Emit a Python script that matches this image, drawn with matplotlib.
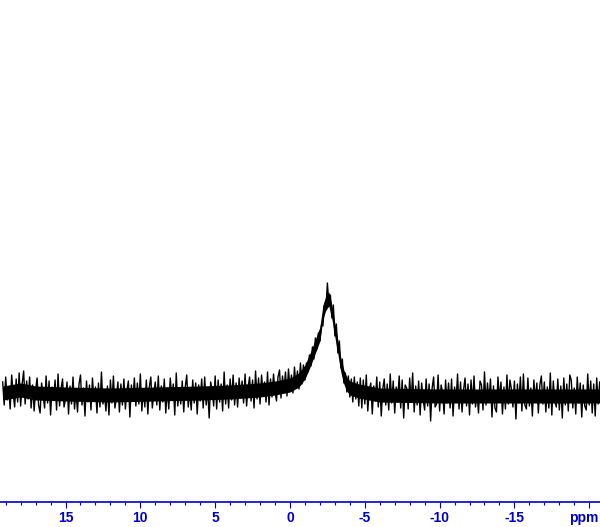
import numpy as np
import matplotlib.pyplot as plt

# chemical shift grid of the read-off trace (ppm), 0.1 ppm steps
ppm_start, ppm_step = 19.2, 0.1

# spike extremes (a.u., baseline = 0), one row per ppm
trace = [
    14, -9, 19, -4, 8, -13, 21, 2, -11, 17,
    -6, 23, -10, 12, 25, -8, 15, -3, 19, -12,
    11, -15, 6, 18, -9, -17, 13, 1, -12, 20,
    -7, 15, -19, 9, -4, 16, -14, 22, -10, 7,
    17, -11, -3, 14, -18, 10, -8, 19, -13, 5,
    -16, 12, 21, -9, 8, -20, 15, -6, 11, -14,
    18, -5, 9, -17, 13, -11, 24, -8, 3, -15,
    10, -19, 16, -7, 20, -12, -2, 14, -16, 12,
    -9, 17, -13, 6, 15, -21, 11, -4, 18, -10,
    13, -8, 22, -15, 7, -11, 16, -18, 9, 19,
    -12, 4, 14, -9, 20, -14, 10, -6, 17, -17,
    8, -13, 18, -3, 12, -19, 23, -10, 6, -8,
    15, -16, 9, 21, -11, 5, -14, 16, -7, 13,
    -18, 11, -5, 17, -12, 19, -9, 8, -22, 14,
    6, -10, 20, -13, 16, -6, 12, -15, 24, -8,
    11, -12, 17, -4, 21, -9, 13, -11, 18, -2,
    15, -7, 22, -10, 9, 19, -5, 16, -12, 25,
    -3, 18, -8, 21, 2, 14, -6, 24, -9, 17,
    -1, 22, 4, -5, 19, 26, -2, 20, 6, 24,
    0, 27, 8, 21, 3, 29, 10, 25, 7, 33,
    12, 31, 16, 33, 24, 41, 30, 49, 37, 58,
    47, 63, 55, 71, 70, 90, 86, 113, 92, 101,
    78, 91, 60, 72, 43, 55, 28, 37, 13, 23,
    4, 20, -1, 17, -6, 19, -3, 14, -10, 18,
    -12, 16, -8, 21, -15, 6, 13, -18, 10, -5,
    19, -11, 14, -20, 7, 17, -9, 12, -14, 22,
    -7, 15, -17, 9, -3, 20, -12, 16, -22, 11,
    8, -13, 18, -6, 23, -16, 10, -9, 15, -19,
    13, -4, -14, 17, -10, 12, -25, 8, 19, -11,
    -8, 21, -15, 11, 4, -18, 16, -7, 13, -12,
    17, -20, 9, -5, 22, -13, 14, -16, 6, 18,
    -10, 12, -19, 16, -8, 20, -11, 3, -17, 15,
    11, -14, 24, -9, 13, -6, 17, -21, 10, -12,
    -16, 19, -4, 14, -18, 9, -13, 21, -8, 16,
    7, -11, 15, -23, 12, -7, 19, -15, 22, -9,
    -13, 18, -10, 8, -20, 16, -5, 13, -17, 11,
    20, -8, 14, -16, 9, -12, 23, -19, 15, -6,
    -11, 17, -14, 10, -22, 18, -9, 12, -15, 21,
    16, -12, 8, -18, 19, -7, 13, -21, 11, -10,
    -14, 22, -9, 15, -17, 12, -20, 18, -8, 14,
]

# middle of the dense noise band
center_ppm = [19.2, 18.0, 17.0, 15, 12, 9, 6, 4, 2, 1, 0, -0.6, -1.0, -1.4, -1.8,
              -2.0, -2.2, -2.4, -2.6, -2.8, -3.0, -3.2, -3.4, -3.6, -3.8, -4.0,
              -4.6, -6, -10, -14, -18, -20.7]
center_val = [3, 6, 3, 2, 1, 2, 3, 4, 6, 8, 11, 16, 24, 38, 54,
              62, 84, 93, 97, 84, 66, 49, 31, 19, 12, 8,
              5, 1, 0, 0, 0, 0]

major_ticks = [15, 10, 5, 0, -5, -10, -15, -20]
tick_labels = ['15', '10', '5', '0', '-5', '-10', '-15', '']

ppm = ppm_start - ppm_step * np.arange(len(trace))
blue = '#0000cc'

fig = plt.figure(figsize=(6, 5.27), dpi=100)
ax = fig.add_axes([0, 25 / 527, 1, 502 / 527])

cv = np.array(center_val)
ax.fill_between(center_ppm, cv - 7, cv + 7, color='black', lw=0)
ax.plot(ppm, trace, color='black', lw=1.0)

ax.set_xlim(19.38, -20.72)
ax.set_ylim(-106, 396)

for s in ['left', 'right', 'top']:
    ax.spines[s].set_visible(False)
ax.spines['bottom'].set_color(blue)
ax.spines['bottom'].set_linewidth(1.2)
ax.set_yticks([])
ax.set_xticks(major_ticks)
ax.set_xticklabels(tick_labels)
ax.set_xticks(np.arange(-20, 20, 1), minor=True)
ax.tick_params(axis='x', which='major', direction='out', length=4.3, width=0.8,
               color=blue, labelcolor=blue, labelsize=10, pad=2)
ax.tick_params(axis='x', which='minor', direction='out', length=2, width=0.8,
               color=blue)
for lab in ax.get_xticklabels():
    lab.set_fontfamily('Liberation Sans')
    lab.set_fontweight('bold')
ax.text(0.998, -0.0174, 'ppm', transform=ax.transAxes, ha='right', va='top',
        color=blue, fontsize=10, fontweight='bold', family='Liberation Sans')

fig.savefig('out.png', dpi=100)
